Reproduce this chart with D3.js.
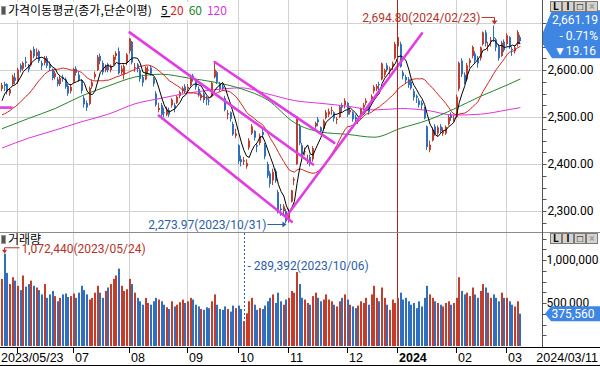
<!DOCTYPE html>
<html>
<head>
<meta charset="utf-8">
<script src="https://cdn.jsdelivr.net/npm/d3@7"></script>
<style>
  body { margin: 0; background: #fff; }
  svg { display: block; font-family: Roboto, "Liberation Sans", sans-serif; }
  .kr { font-family: "Noto Sans CJK KR", sans-serif; }
  .xlab { font-family: "Liberation Sans", sans-serif; }
</style>
</head>
<body>
<svg id="chart" width="600" height="366"></svg>
<script>
// trading days shown on the chart
var dates = [
  "2023/05/23","2023/05/24","2023/05/25","2023/05/26","2023/05/30","2023/05/31",
  "2023/06/01","2023/06/02","2023/06/05","2023/06/07","2023/06/08","2023/06/09","2023/06/12","2023/06/13","2023/06/14","2023/06/15","2023/06/16","2023/06/19","2023/06/20","2023/06/21","2023/06/22","2023/06/23","2023/06/26","2023/06/27","2023/06/28","2023/06/29","2023/06/30",
  "2023/07/03","2023/07/04","2023/07/05","2023/07/06","2023/07/07","2023/07/10","2023/07/11","2023/07/12","2023/07/13","2023/07/14","2023/07/17","2023/07/18","2023/07/19","2023/07/20","2023/07/21","2023/07/24","2023/07/25","2023/07/26","2023/07/27","2023/07/28","2023/07/31",
  "2023/08/01","2023/08/02","2023/08/03","2023/08/04","2023/08/07","2023/08/08","2023/08/09","2023/08/10","2023/08/11","2023/08/14","2023/08/16","2023/08/17","2023/08/18","2023/08/21","2023/08/22","2023/08/23","2023/08/24","2023/08/25","2023/08/28","2023/08/29","2023/08/30","2023/08/31",
  "2023/09/01","2023/09/04","2023/09/05","2023/09/06","2023/09/07","2023/09/08","2023/09/11","2023/09/12","2023/09/13","2023/09/14","2023/09/15","2023/09/18","2023/09/19","2023/09/20","2023/09/21","2023/09/22","2023/09/25","2023/09/26","2023/09/27",
  "2023/10/04","2023/10/05","2023/10/06","2023/10/10","2023/10/11","2023/10/12","2023/10/13","2023/10/16","2023/10/17","2023/10/18","2023/10/19","2023/10/20","2023/10/23","2023/10/24","2023/10/25","2023/10/26","2023/10/27","2023/10/30","2023/10/31",
  "2023/11/01","2023/11/02","2023/11/03","2023/11/06","2023/11/07","2023/11/08","2023/11/09","2023/11/10","2023/11/13","2023/11/14","2023/11/15","2023/11/16","2023/11/17","2023/11/20","2023/11/21","2023/11/22","2023/11/23","2023/11/24","2023/11/27","2023/11/28","2023/11/29","2023/11/30",
  "2023/12/01","2023/12/04","2023/12/05","2023/12/06","2023/12/07","2023/12/08","2023/12/11","2023/12/12","2023/12/13","2023/12/14","2023/12/15","2023/12/18","2023/12/19","2023/12/20","2023/12/21","2023/12/22","2023/12/26","2023/12/27","2023/12/28",
  "2024/01/02","2024/01/03","2024/01/04","2024/01/05","2024/01/08","2024/01/09","2024/01/10","2024/01/11","2024/01/12","2024/01/15","2024/01/16","2024/01/17","2024/01/18","2024/01/19","2024/01/22","2024/01/23","2024/01/24","2024/01/25","2024/01/26","2024/01/29","2024/01/30","2024/01/31",
  "2024/02/01","2024/02/02","2024/02/05","2024/02/06","2024/02/07","2024/02/08","2024/02/13","2024/02/14","2024/02/15","2024/02/16","2024/02/19","2024/02/20","2024/02/21","2024/02/22","2024/02/23","2024/02/26","2024/02/27","2024/02/28","2024/02/29",
  "2024/03/04","2024/03/05","2024/03/06","2024/03/07","2024/03/08","2024/03/11"
];

var opens = [
  2560,2570,2570,2550,2570,2584,2575,2610,2603,2618, 2608,2610,2645,2630,2640,2615,2615,2625,2612,2600,
  2585,2580,2570,2585,2580,2566,2555,2575,2603,2590, 2578,2540,2530,2528,2565,2585,2600,2630,2615,2600,
  2612,2600,2612,2630,2640,2595,2590,2615,2640,2660, 2605,2612,2600,2585,2580,2600,2605,2582,2550,2515,
  2525,2510,2505,2515,2525,2525,2530,2545,2555,2565, 2560,2568,2588,2578,2560,2540,2550,2540,2535,2545,
  2585,2595,2570,2565,2540,2505,2510,2485,2460,2440, 2410,2405,2395,2435,2465,2470,2440,2445,2468,2440,
  2400,2380,2365,2385,2340,2305,2300,2300,2280,2320, 2365,2400,2480,2440,2425,2405,2415,2410,2480,2495,
  2478,2475,2498,2505,2515,2510,2495,2500,2525,2525, 2530,2510,2510,2500,2490,2500,2520,2530,2525,2530,
  2555,2560,2570,2580,2590,2610,2598,2608,2625,2650, 2655,2595,2585,2580,2575,2555,2545,2535,2530,2520,
  2480,2430,2450,2480,2465,2480,2465,2465,2485,2505, 2495,2500,2560,2620,2590,2580,2615,2630,2635,2625,
  2625,2655,2680,2650,2660,2670,2665,2650,2630,2660, 2655,2670,2645,2640,2655,2670
];
var highs = [
  2573,2575,2572,2562,2590,2594,2605,2614,2618,2628, 2613,2643,2650,2646,2643,2620,2630,2630,2618,2603,
  2598,2585,2588,2590,2584,2570,2570,2605,2608,2596, 2580,2545,2535,2565,2580,2597,2632,2635,2620,2612,
  2615,2612,2632,2640,2648,2610,2612,2636,2668,2662, 2615,2615,2604,2590,2608,2608,2610,2585,2555,2530,
  2530,2520,2522,2520,2540,2530,2546,2556,2565,2570, 2570,2590,2592,2582,2565,2552,2555,2545,2540,2575,
  2615,2598,2575,2572,2545,2515,2512,2490,2475,2442, 2418,2415,2410,2455,2485,2472,2445,2465,2475,2445,
  2405,2385,2390,2390,2345,2315,2315,2305,2305,2345, 2372,2502,2485,2445,2435,2420,2420,2438,2490,2500,
  2480,2495,2515,2518,2522,2512,2500,2525,2530,2540, 2532,2520,2512,2505,2498,2520,2530,2540,2528,2548,
  2568,2570,2575,2616,2603,2615,2607,2618,2660,2675, 2660,2600,2590,2585,2580,2560,2548,2540,2535,2522,
  2482,2450,2478,2485,2482,2485,2478,2482,2505,2510, 2505,2548,2618,2625,2595,2615,2625,2652,2640,2630,
  2650,2682,2685,2660,2670,2694.80,2668,2655,2662,2665, 2678,2672,2650,2652,2685,2675
];
var lows = [
  2555,2555,2548,2545,2566,2570,2570,2595,2598,2606, 2595,2607,2625,2624,2615,2600,2610,2604,2598,2578,
  2580,2565,2566,2575,2560,2545,2550,2572,2588,2575, 2550,2520,2513,2525,2560,2580,2598,2612,2590,2595,
  2595,2595,2610,2622,2590,2590,2580,2610,2635,2612, 2596,2595,2575,2565,2578,2592,2588,2565,2522,2510,
  2495,2500,2502,2500,2520,2510,2528,2540,2550,2550, 2552,2565,2575,2558,2543,2535,2530,2525,2525,2542,
  2582,2570,2555,2555,2512,2495,2490,2460,2455,2400, 2395,2398,2390,2430,2462,2450,2425,2440,2455,2410,
  2370,2350,2355,2360,2295,2290,2290,2273.97,2275,2318, 2355,2398,2440,2415,2418,2400,2395,2405,2475,2480,
  2465,2472,2495,2500,2505,2490,2485,2498,2510,2518, 2500,2505,2490,2485,2485,2495,2515,2525,2505,2525,
  2550,2555,2555,2578,2585,2596,2590,2600,2622,2645, 2605,2580,2570,2562,2558,2535,2530,2520,2515,2495,
  2430,2425,2448,2460,2460,2465,2460,2462,2482,2492, 2490,2498,2555,2585,2570,2575,2605,2625,2615,2605,
  2620,2652,2650,2640,2650,2660,2640,2620,2628,2638, 2652,2645,2630,2635,2650,2655
];
var closes = [
  2568,2566,2554,2559,2586,2577,2601,2601,2615,2615, 2601,2641,2629,2638,2619,2609,2626,2609,2604,2583,
  2593,2570,2583,2582,2564,2550,2564,2602,2594,2579, 2556,2527,2520,2562,2574,2592,2628,2619,2595,2608,
  2600,2609,2628,2636,2593,2603,2608,2633,2667,2616, 2606,2602,2581,2573,2605,2601,2592,2571,2526,2519,
  2505,2508,2516,2505,2537,2519,2543,2553,2561,2556, 2564,2585,2582,2564,2548,2548,2536,2537,2534,2572,
  2601,2575,2559,2560,2515,2508,2496,2463,2465,2406, 2404,2408,2402,2450,2480,2456,2437,2460,2462,2416,
  2375,2358,2383,2364,2300,2302,2310,2278,2301,2344, 2368,2502,2444,2421,2427,2409,2404,2434,2487,2489,
  2470,2492,2510,2512,2515,2497,2496,2522,2520,2535, 2505,2515,2495,2495,2492,2518,2526,2535,2511,2544,
  2564,2566,2569,2614,2600,2600,2603,2614,2655,2670, 2607,2587,2578,2568,2561,2542,2541,2526,2525,2497,
  2436,2441,2473,2464,2478,2470,2470,2479,2500,2498, 2497,2543,2615,2591,2577,2610,2621,2649,2620,2614,
  2648,2680,2657,2653,2664,2667,2648,2625,2658,2642, 2674,2649,2642,2648,2680.35,2661.19
];
// closes of the 19 sessions before the first shown day (for the 5/20 day averages)
var priorCloses = [2523.5,2489.0,2484.8,2495.8,2501.5,2500.9,2500.7,2501.1,2490.0,2510.1,2496.5,2491.2,2475.4,2479.4,2480.2,2494.7,2515.5,2537.8,2557.1];

var volumes = [
  780000,1072440,850000,720000,800000,760000,700000,650000,820000,690000,720000,760000,700000,680000,650000,600000,720000,560000,600000,640000,580000,520000,560000,600000,610000,570000,580000,
  610000,560000,620000,700000,650000,600000,540000,560000,620000,700000,620000,560000,640000,680000,720000,780000,820000,900000,700000,640000,660000,
  780000,720000,620000,560000,520000,480000,560000,500000,480000,520000,560000,540000,520000,480000,450000,430000,520000,460000,480000,510000,540000,500000,
  520000,560000,540000,480000,460000,430000,420000,450000,440000,520000,600000,480000,430000,420000,460000,430000,400000,470000,440000,
  470000,430000,289392,380000,520000,560000,480000,420000,440000,430000,470000,520000,560000,600000,500000,620000,520000,480000,540000,
  560000,640000,620000,860000,720000,560000,540000,500000,480000,580000,620000,560000,520000,540000,600000,540000,520000,480000,460000,520000,560000,600000,
  540000,480000,460000,440000,470000,520000,500000,560000,480000,600000,700000,560000,520000,680000,560000,480000,420000,540000,500000,
  560000,620000,540000,560000,520000,480000,500000,440000,520000,460000,560000,700000,600000,560000,520000,500000,480000,460000,500000,520000,480000,500000,
  560000,800000,640000,600000,620000,580000,680000,600000,560000,640000,720000,680000,620000,560000,600000,560000,520000,620000,560000,
  560000,520000,480000,460000,520000,375560
];

// 60 / 120 day averages at every 10th session
var maIdx = [0,10,20,30,40,50,60,70,80,90,100,110,120,130,140,150,160,170,180,190,195];
var ma60 = [2475,2497,2518,2545,2566,2585,2591,2583,2574,2560,2536,2488,2468,2463,2457,2476,2493,2517,2544,2568,2581];
var ma120 = [2434,2455,2472,2490,2506,2528,2540,2551,2558,2562,2549,2535,2529,2523,2515,2518,2514,2504,2506,2515,2520];

// hand drawn trend lines: [date index, price] pairs
var trendLines = [
  [[48, 2680], [117, 2399]],
  [[80, 2617], [125, 2445]],
  [[59, 2503], [109, 2277]],
  [[107, 2289], [158, 2678]]
];
var flatLine = [[0, 2520], [4, 2520]];

var priceTicks = [2300, 2400, 2500, 2600, 2700];
var volumeTicks = [500000, 1000000];

var RED = "#c43c2a", BLUE = "#2f6fbf";

var svg = d3.select("#chart");
var n = dates.length;
var axisX = 542.5;

var x = d3.scaleBand().domain(d3.range(n)).range([1, 1 + 2.655 * n]).paddingInner(0.25);
var cx = function (i) { return x(i) + x.bandwidth() / 2; };
var y = d3.scaleLinear().domain([2300, 2700]).range([211, 23]);
var yv = d3.scaleLinear().domain([0, 1000000]).range([346, 260]);

var fmtP = d3.format(",.2f"), fmtV = d3.format(",");

svg.append("rect").attr("width", 600).attr("height", 366).attr("fill", "#fff");

var defs = svg.append("defs");
defs.append("clipPath").attr("id", "clipP").append("rect").attr("x", 0).attr("y", 0).attr("width", axisX).attr("height", 232);
defs.append("clipPath").attr("id", "clipV").append("rect").attr("x", 0).attr("y", 233).attr("width", axisX).attr("height", 114);

// month starts -> grid lines
var monthStarts = d3.range(1, n).filter(function (i) { return dates[i].slice(5, 7) !== dates[i - 1].slice(5, 7); });
var gx = function (i) { return Math.round(x(i)) + 0.5; };

var grid = svg.append("g").attr("stroke", "#d2d2d2").attr("stroke-width", 1);
grid.selectAll("line.v").data(monthStarts).join("line")
  .attr("x1", gx).attr("x2", gx).attr("y1", 0).attr("y2", 346);
grid.selectAll("line.h").data(priceTicks).join("line")
  .attr("x1", 0).attr("x2", axisX).attr("y1", function (d) { return Math.round(y(d)) + 0.5; })
  .attr("y2", function (d) { return Math.round(y(d)) + 0.5; });

// price panel
var pg = svg.append("g").attr("clip-path", "url(#clipP)");

// year separator
var yearStart = monthStarts.filter(function (i) { return dates[i].slice(5, 7) === "01"; })[0];
svg.append("line").attr("x1", gx(yearStart)).attr("x2", gx(yearStart)).attr("y1", 0).attr("y2", 346)
  .attr("stroke", "#a8281c").attr("stroke-width", 1);

var idx = d3.range(n);
var isUp = function (i) { return closes[i] >= opens[i]; };

pg.selectAll("rect.wick").data(idx).join("rect")
  .attr("x", function (i) { return Math.round(x(i)); })
  .attr("width", 1)
  .attr("y", function (i) { return y(highs[i]); })
  .attr("height", function (i) { return Math.max(1, y(lows[i]) - y(highs[i])); })
  .attr("fill", function (i) { return isUp(i) ? RED : BLUE; });

pg.selectAll("rect.body").data(idx).join("rect")
  .attr("x", function (i) { return Math.round(x(i)); })
  .attr("width", 2)
  .attr("y", function (i) { return y(Math.max(opens[i], closes[i])); })
  .attr("height", function (i) { return Math.max(1, Math.abs(y(opens[i]) - y(closes[i]))); })
  .attr("fill", function (i) { return isUp(i) ? RED : BLUE; });

// simple moving averages of closes
var allCloses = priorCloses.concat(closes);
function sma(p) {
  return idx.map(function (i) {
    var end = i + priorCloses.length + 1;
    return d3.mean(allCloses.slice(end - p, end));
  });
}
var ma5 = sma(5), ma20 = sma(20);

var lineIdx = function (arr) {
  return d3.line().x(function (i) { return cx(i); }).y(function (i) { return y(arr[i]); })(idx);
};
var sampleLine = d3.line().curve(d3.curveMonotoneX)
  .x(function (d) { return cx(d[0]); }).y(function (d) { return y(d[1]); });

pg.append("path").attr("d", sampleLine(d3.zip(maIdx, ma120))).attr("fill", "none").attr("stroke", "#dd33dd").attr("stroke-width", 1);
pg.append("path").attr("d", sampleLine(d3.zip(maIdx, ma60))).attr("fill", "none").attr("stroke", "#26852a").attr("stroke-width", 1);
pg.append("path").attr("d", lineIdx(ma20)).attr("fill", "none").attr("stroke", "#d42222").attr("stroke-width", 1);
pg.append("path").attr("d", lineIdx(ma5)).attr("fill", "none").attr("stroke", "#000").attr("stroke-width", 1);

// trend lines
var tl = d3.line().x(function (d) { return cx(d[0]); }).y(function (d) { return y(d[1]); });
pg.selectAll("path.trend").data(trendLines).join("path")
  .attr("d", tl).attr("fill", "none").attr("stroke", "#e23de2").attr("stroke-width", 2.6).attr("stroke-linecap", "round");
pg.append("line").attr("x1", 0).attr("x2", cx(flatLine[1][0]))
  .attr("y1", y(flatLine[0][1])).attr("y2", y(flatLine[1][1]))
  .attr("stroke", "#e23de2").attr("stroke-width", 2.6);

// high / low annotations
var hi = d3.max(highs), hiI = highs.indexOf(hi);
var hx = Math.round(cx(hiI)) + 0.5, hy = y(hi);
svg.append("path").attr("d", "M" + (hx - 13) + "," + (hy - 8) + "H" + hx + "V" + (hy - 4))
  .attr("fill", "none").attr("stroke", "#b5332a");
svg.append("path").attr("d", "M" + (hx - 3) + "," + (hy - 5) + "L" + (hx + 3) + "," + (hy - 5) + "L" + hx + "," + (hy - 1) + "Z").attr("fill", "#b5332a");
svg.append("text").attr("x", hx - 14).attr("y", hy - 8).attr("dy", "0.35em").attr("text-anchor", "end")
  .attr("font-size", 12).attr("fill", "#b5332a").text(fmtP(hi) + "(" + dates[hiI] + ")");

var lo = d3.min(lows), loI = lows.indexOf(lo);
var lx = cx(loI), ly = Math.round(y(lo)) + 1.5;
svg.append("path").attr("d", "M" + (lx - 19) + "," + ly + "H" + (lx - 3))
  .attr("stroke", "#2d5ea8").attr("fill", "none");
svg.append("path").attr("d", "M" + (lx - 4) + "," + (ly - 3) + "L" + lx + "," + ly + "L" + (lx - 4) + "," + (ly + 3) + "Z").attr("fill", "#2d5ea8");
svg.append("text").attr("x", lx - 20).attr("y", ly).attr("dy", "0.35em").attr("text-anchor", "end")
  .attr("font-size", 12).attr("fill", "#2d5ea8").text(fmtP(lo) + "(" + dates[loI] + ")");

// price panel title
var tbg = svg.append("rect").attr("x", 0).attr("y", 2).attr("width", 240).attr("height", 18).attr("fill", "#fff");
svg.append("rect").attr("x", 1.5).attr("y", 6.5).attr("width", 4).attr("height", 8).attr("fill", "#555").attr("stroke", "#999");
var title = svg.append("text").attr("class", "kr").attr("x", 8).attr("y", 15).attr("font-size", 12).attr("fill", "#000");
title.append("tspan").text("가격이동평균(종가,단순이평)");
title.append("tspan").attr("dx", 9).attr("text-decoration", "underline").text("5 ");
title.append("tspan").attr("fill", "#d42222").text("20");
title.append("tspan").attr("dx", 5).attr("fill", "#26852a").text("60");
title.append("tspan").attr("dx", 5).attr("fill", "#dd33dd").text("120");
var tw = title.node().getComputedTextLength();
tbg.attr("width", tw + 12);

// panel separator
svg.append("line").attr("x1", 0).attr("x2", 600).attr("y1", 232.5).attr("y2", 232.5).attr("stroke", "#8c8c8c");

// volume panel
var vg = svg.append("g").attr("clip-path", "url(#clipV)");
vg.selectAll("rect.vol").data(idx).join("rect")
  .attr("x", function (i) { return Math.round(x(i)); })
  .attr("width", 2)
  .attr("y", function (i) { return yv(volumes[i]); })
  .attr("height", function (i) { return 346 - yv(volumes[i]); })
  .attr("fill", function (i) { return isUp(i) ? RED : BLUE; });

svg.append("rect").attr("x", 1.5).attr("y", 235.5).attr("width", 4).attr("height", 8).attr("fill", "#555").attr("stroke", "#999");
svg.append("text").attr("class", "kr").attr("x", 8).attr("y", 244).attr("font-size", 12).text("거래량");

var vmax = d3.max(volumes), vmI = volumes.indexOf(vmax);
var vx = Math.round(x(vmI)) + 0.5, vy = yv(vmax);
svg.append("path").attr("d", "M" + (vx + 15) + "," + (vy - 6) + "H" + vx + "V" + (vy - 2))
  .attr("fill", "none").attr("stroke", "#b5332a");
svg.append("path").attr("d", "M" + (vx - 2.5) + "," + (vy - 4) + "L" + (vx + 2.5) + "," + (vy - 4) + "L" + vx + "," + vy + "Z").attr("fill", "#b5332a");
svg.append("text").attr("x", vx + 17).attr("y", vy - 4.5).attr("dy", "0.35em").attr("font-size", 12)
  .attr("fill", "#b5332a").text(fmtV(vmax) + "(" + dates[vmI] + ")");

var vmin = d3.min(volumes), vnI = volumes.indexOf(vmin);
var nx = Math.round(cx(vnI)) + 0.5;
svg.append("line").attr("x1", nx).attr("x2", nx).attr("y1", 233).attr("y2", yv(vmin))
  .attr("stroke", "#2d5ea8").attr("stroke-dasharray", "2,2");
svg.append("text").attr("x", nx + 3).attr("y", 266).attr("dy", "0.35em").attr("font-size", 12)
  .attr("fill", "#2d5ea8").text("- " + fmtV(vmin) + "(" + dates[vnI] + ")");

// right axis
svg.append("line").attr("x1", axisX).attr("x2", axisX).attr("y1", 0).attr("y2", 347).attr("stroke", "#555");
var pMinor = d3.range(2275, 2751, 25).filter(function (d) { return y(d) > 12 && y(d) < 230; });
svg.append("g").selectAll("line").data(pMinor).join("line")
  .attr("x1", axisX).attr("x2", axisX + 4)
  .attr("y1", function (d) { return Math.round(y(d)) + 0.5; }).attr("y2", function (d) { return Math.round(y(d)) + 0.5; })
  .attr("stroke", "#555");
svg.append("g").selectAll("text").data(priceTicks).join("text")
  .attr("x", axisX + 5).attr("y", function (d) { return y(d); }).attr("dy", "0.35em")
  .attr("font-size", 12).text(function (d) { return fmtP(d); });

var vMinor = d3.range(125000, 1300001, 125000).filter(function (d) { return yv(d) > 236; });
svg.append("g").selectAll("line").data(vMinor).join("line")
  .attr("x1", axisX).attr("x2", axisX + 4)
  .attr("y1", function (d) { return Math.round(yv(d)) + 0.5; }).attr("y2", function (d) { return Math.round(yv(d)) + 0.5; })
  .attr("stroke", "#555");
svg.append("g").selectAll("text").data(volumeTicks).join("text")
  .attr("x", axisX + 4).attr("y", function (d) { return yv(d); }).attr("dy", "0.35em")
  .attr("font-size", 12).text(function (d) { return fmtV(d); });

// last price callout
var last = closes[n - 1], prev = closes[n - 2];
var yc = y(last);
svg.append("path").attr("d", "M552," + (yc - 31) + "H600V" + (yc + 17) + "H552L543," + (yc + 3) + "V" + (yc - 9) + "Z").attr("fill", "#3f86e3");
var cl = svg.append("g").attr("fill", "#fff").attr("font-size", 12).attr("text-anchor", "end");
cl.append("text").attr("x", 598).attr("y", yc - 21).attr("dy", "0.35em").text(fmtP(last));
cl.append("text").attr("x", 598).attr("y", yc - 5).attr("dy", "0.35em").text("- " + d3.format(".2f")(Math.abs((last - prev) / prev * 100)) + "%");
cl.append("text").attr("x", 596).attr("y", yc + 10).attr("dy", "0.35em").text("▼" + d3.format(".2f")(prev - last));

var lastV = volumes[n - 1], yl = yv(lastV);
svg.append("path").attr("d", "M551," + (yl - 7.5) + "H600V" + (yl + 7.5) + "H551L545," + yl + "Z").attr("fill", "#3f86e3");
svg.append("text").attr("x", 573).attr("y", yl).attr("dy", "0.35em").attr("text-anchor", "middle")
  .attr("fill", "#fff").attr("font-size", 12).text(fmtV(lastV));

// panel buttons
function buttons(top) {
  var b = svg.append("g");
  ["L", "I", "\u25A1", "\u00D7"].forEach(function (t, k) {
    b.append("rect").attr("x", 550.5 + k * 12).attr("y", top + 0.5).attr("width", 11).attr("height", 10)
      .attr("fill", "#d6d3ce").attr("stroke", "#7a7a7a");
    b.append("text").attr("x", 556 + k * 12).attr("y", top + 9).attr("text-anchor", "middle")
      .attr("font-size", 10).attr("font-weight", "bold").attr("fill", k === 3 ? "#9a9a9a" : "#000").text(t);
  });
}
buttons(1);
buttons(233);

// x axis
svg.append("line").attr("x1", 0).attr("x2", 600).attr("y1", 347.5).attr("y2", 347.5).attr("stroke", "#000");
svg.append("line").attr("x1", 0).attr("x2", 600).attr("y1", 365.5).attr("y2", 365.5).attr("stroke", "#000");
svg.append("g").selectAll("line").data(monthStarts).join("line")
  .attr("x1", gx).attr("x2", gx).attr("y1", 347).attr("y2", 353).attr("stroke", "#000");

var xl = svg.append("g").attr("class", "xlab").attr("font-size", 12.5);
function xLabel(txt, px, anchor, bold) {
  xl.append("text").attr("x", px).attr("y", 362)
    .attr("text-anchor", anchor)
    .attr("font-weight", bold ? "bold" : null)
    .text(txt);
}
xLabel(dates[0], 1, "start", false);
monthStarts.filter(function (i) { return x(i) > 65; }).forEach(function (i) {
  var m = dates[i].slice(5, 7);
  xLabel(m === "01" ? dates[i].slice(0, 4) : m, gx(i) + 1.5, "start", m === "01");
});
xLabel(dates[n - 1], 598, "end", false);
</script>
</body>
</html>
